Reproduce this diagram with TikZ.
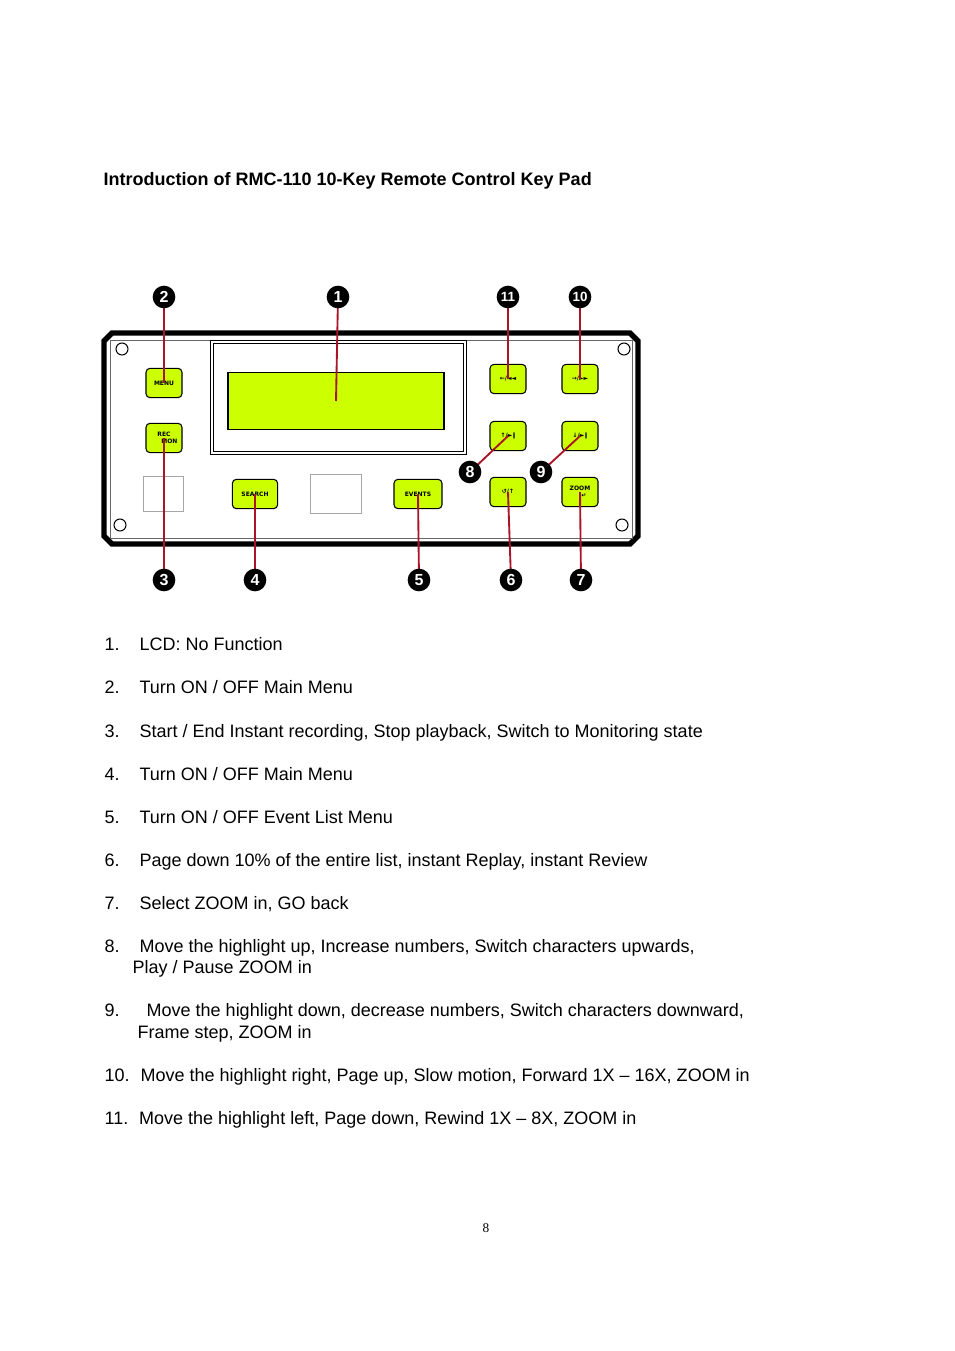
\documentclass[tikz,border=0pt]{standalone}
\usepackage{fontspec}
\setmainfont{Liberation Sans}
\newfontfamily\symfont{DejaVu Sans}
\newfontfamily\pagefont{Liberation Serif}
\usetikzlibrary{positioning}
\definecolor{lcdgreen}{RGB}{204,255,0}
\definecolor{pinred}{RGB}{170,20,40}
\tikzset{
	key/.style={
		rectangle,
		rounded corners=3pt,
		fill=lcdgreen,
		draw=black, thick,
		minimum width=27pt,
		minimum height=22pt,
		inner sep=1pt,
		font=\symfont\bfseries\fontsize{4.5}{5}\selectfont,
		text centered},
	blank/.style={rectangle, draw=black!35, fill=white, thin},
	badge/.style={
		circle, fill=black, inner sep=0pt, minimum size=17pt,
		text=white, font=\bfseries\fontsize{12}{12}\selectfont},
	smallbadge/.style={badge, font=\bfseries\fontsize{10}{10}\selectfont},
	pin/.style={draw=pinred, line width=1.4pt},
	hole/.style={circle, draw=black, thick, minimum size=9pt, inner sep=0pt},
	item/.style={anchor=base west, font=\fontsize{13.5}{17}\selectfont, align=left},
}
\begin{document}
\begin{tikzpicture}[x=0.75pt, y=-0.75pt]
\useasboundingbox (0,0) rectangle (954,1351);
\node[anchor=base west, font=\bfseries\fontsize{13.5}{16}\selectfont] (title) at (99,186)
	{Introduction of RMC-110 10-Key Remote Control Key Pad};

% housing
\draw[line width=4pt, fill=white] (112,333) -- (630,333) -- (638,341) -- (638,536) -- (630,544)
	-- (112,544) -- (104,536) -- (104,341) -- cycle;
\draw[black!60] (110,340) -- (632,340) -- (632,538) -- (110,538) -- cycle;
\node[hole] (h1) at (122,349) {};
\node[hole] (h2) at (624,349) {};
\node[hole] (h3) at (120,525) {};
\node[hole] (h4) at (622,525) {};
\draw[black!60] (210,340) -- (210,360);

% display
\draw[thick, double=white, double distance=1.5pt] (212,342) rectangle (465,453);
\node[rectangle, draw=black, thick, fill=lcdgreen, minimum width=162pt, minimum height=43pt] (lcd) at (336,401) {};

% keys
\node[key] (menu) at (164,383) {MENU};
\node[key, align=center] (rec) at (164,438) {REC\\\hspace{8pt}MON};
\node[blank, minimum width=30pt, minimum height=26pt] (b1) at (163,494) {};
\node[key, minimum width=34pt] (search) at (255,494) {SEARCH};
\node[blank, minimum width=38pt, minimum height=29pt] (b2) at (336,494) {};
\node[key, minimum width=36pt] (events) at (418,494) {EVENTS};
\node[key] (left) at (508,379) {←/◄◄};
\node[key] (right) at (580,379) {→/►►};
\node[key] (up) at (508,436) {↑/►‖};
\node[key] (down) at (580,436) {↓/►‖};
\node[key] (back) at (508,492) {↺/↑};
\node[key, align=center] (zoom) at (580,492) {ZOOM\\\hspace{6pt}↵};

% pins
\draw[pin] (338,297) -- (lcd.center);
\draw[pin] (164,297) -- (menu.center);
\draw[pin] (164,580) -- (rec.center);
\draw[pin] (255,580) -- (search.center);
\draw[pin] (419,580) -- (events.center);
\draw[pin] (511,580) -- (back.center);
\draw[pin] (581,580) -- (zoom.center);
\draw[pin] (470,472) -- (up.center);
\draw[pin] (541,472) -- (down.center);
\draw[pin] (580,297) -- (right.center);
\draw[pin] (508,297) -- (left.center);

% badges
\node[badge] (n1) at (338,297) {1};
\node[badge] (n2) at (164,297) {2};
\node[badge] (n3) at (164,580) {3};
\node[badge] (n4) at (255,580) {4};
\node[badge] (n5) at (419,580) {5};
\node[badge] (n6) at (511,580) {6};
\node[badge] (n7) at (581,580) {7};
\node[badge] (n8) at (470,472) {8};
\node[badge] (n9) at (541,472) {9};
\node[smallbadge] (n10) at (580,297) {10};
\node[smallbadge] (n11) at (508,297) {11};

% list
\node[item] (l1) at (100,650) {1.\hspace{1.1em}LCD: No Function};
\node[item] (l2) at (100,693) {2.\hspace{1.1em}Turn ON / OFF Main Menu};
\node[item] (l3) at (100,737) {3.\hspace{1.1em}Start / End Instant recording, Stop playback, Switch to Monitoring state};
\node[item] (l4) at (100,780) {4.\hspace{1.1em}Turn ON / OFF Main Menu};
\node[item] (l5) at (100,823) {5.\hspace{1.1em}Turn ON / OFF Event List Menu};
\node[item] (l6) at (100,866) {6.\hspace{1.1em}Page down 10\% of the entire list, instant Replay, instant Review};
\node[item] (l7) at (100,909) {7.\hspace{1.1em}Select ZOOM in, GO back};
\node[item] (l8) at (100,952) {8.\hspace{1.1em}Move the highlight up, Increase numbers, Switch characters upwards,};
\node[item] (l8b) at (128,973) {Play / Pause ZOOM in};
\node[item] (l9) at (100,1016) {9.\hspace{1.5em}Move the highlight down, decrease numbers, Switch characters downward,};
\node[item] (l9b) at (133,1038) {Frame step, ZOOM in};
\node[item] (l10) at (100,1081) {10.\hspace{0.6em}Move the highlight right, Page up, Slow motion, Forward 1X -- 16X, ZOOM in};
\node[item] (l11) at (100,1124) {11.\hspace{0.6em}Move the highlight left, Page down, Rewind 1X -- 8X, ZOOM in};

\node[font=\pagefont\fontsize{10}{12}\selectfont] (page) at (486,1228) {8};
\end{tikzpicture}
\end{document}
